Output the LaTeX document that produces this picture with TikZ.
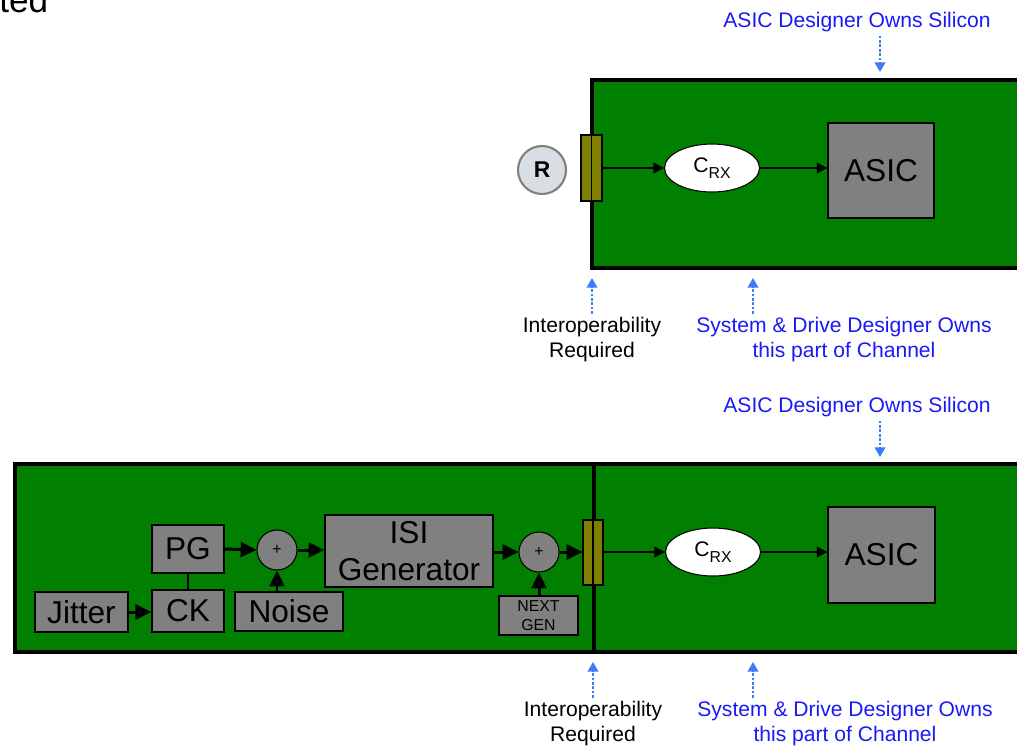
\documentclass[tikz,border=0pt]{standalone}
\usepackage{fontspec}
\setmainfont{Liberation Sans}
\usetikzlibrary{arrows.meta, shapes.geometric}
\definecolor{pcbgreen}{HTML}{007F00}
\definecolor{blockgray}{HTML}{808080}
\definecolor{connolive}{HTML}{808000}
\definecolor{ownblue}{HTML}{1A1AF5}
\definecolor{arrowblue}{HTML}{3D7BF5}
\definecolor{probegray}{HTML}{D9DEE4}
\tikzset{
  board/.style={fill=pcbgreen, draw=black, line width=2.8pt},
  blockbox/.style={rectangle, fill=blockgray, draw=black, line width=0.8pt, inner sep=0pt, font=\fontsize{18}{21}\selectfont, align=center},
  sumnode/.style={circle, fill=blockgray, draw=black, line width=0.6pt, minimum size=0.8cm, inner sep=0pt, font=\fontsize{9}{10}\selectfont},
  connbox/.style={rectangle, fill=connolive, draw=black, line width=0.6pt, minimum width=0.42cm, minimum height=1.32cm, inner sep=0pt},
  crxnode/.style={ellipse, fill=white, draw=black, line width=0.6pt, minimum width=1.9cm, minimum height=0.96cm, inner sep=0pt, font=\fontsize{12}{14}\selectfont},
  ownlabel/.style={text=ownblue, inner sep=2pt, align=center, font=\fontsize{12}{14.2}\selectfont},
  notelabel/.style={text=black, inner sep=2pt, align=center, font=\fontsize{12}{14.2}\selectfont},
  ownarrow/.style={arrowblue, line width=1.2pt, dash pattern=on 1.5pt off 1pt, -{Triangle[length=5.5pt, width=6pt]}},
  sig/.style={black, line width=0.9pt, -{Triangle[length=6pt, width=6pt]}},
  bigsig/.style={black, line width=1.7pt, -{Triangle[length=9pt, width=8.5pt]}}
}

\begin{document}
\begin{tikzpicture}[x=0.02cm, y=-0.02cm]
\useasboundingbox (0,0) rectangle (1017,745);

% Cut-off title
\node[anchor=base west, inner sep=0pt, font=\fontsize{20}{24}\selectfont] (cuttitle) at (-1,12) {ted};

% ---------------- Upper channel ----------------
\node[ownlabel] (asicowntop) at (857,22) {ASIC Designer Owns Silicon};
\coordinate (asicpointtop) at (880,72);
\draw[ownarrow] (asicowntop.south -| asicpointtop) -- (asicpointtop);

\draw[board] (592,80) rectangle (1040,268);

\node[circle, fill=probegray, draw=gray, line width=1.2pt, minimum size=0.96cm, inner sep=0pt, font=\fontsize{13}{15}\selectfont\bfseries] (probe) at (542,170) {R};

\node[connbox] (conntop) at (591.5,168) {};
\draw[line width=0.6pt] (conntop.north) -- (conntop.south);

\node[crxnode] (crxtop) at (712,168) {C\raisebox{-0.5ex}{\fontsize{9}{10}\selectfont RX}};
\node[blockbox, minimum width=2.12cm, minimum height=1.9cm] (asictop) at (881,170.5) {ASIC};

\draw[sig] (conntop.east |- crxtop) -- (crxtop.west);
\draw[sig] (crxtop.east) -- (asictop.west |- crxtop);

\node[notelabel] (interoptop) at (592,340) {Interoperability\\Required};
\coordinate (interpointtop) at (592,278);
\draw[ownarrow] (interoptop.north) -- (interpointtop);

\node[ownlabel] (sysowntop) at (844,340) {System \& Drive Designer Owns\\this part of Channel};
\coordinate (syspointtop) at (753,278);
\draw[ownarrow] (sysowntop.north -| syspointtop) -- (syspointtop);

% ---------------- Lower channel ----------------
\node[ownlabel] (asicownbot) at (857,407) {ASIC Designer Owns Silicon};
\coordinate (asicpointbot) at (880,457);
\draw[ownarrow] (asicownbot.south -| asicpointbot) -- (asicpointbot);

\draw[board] (15,464) rectangle (594,652);
\draw[board] (594,464) rectangle (1040,652);

% Transmitter blocks
\node[blockbox, minimum width=1.86cm, minimum height=0.8cm] (jitter) at (81.5,612) {Jitter};
\node[blockbox, minimum width=1.44cm, minimum height=0.84cm] (ck) at (188,611) {CK};
\node[blockbox, minimum width=1.44cm, minimum height=0.96cm] (pg) at (188,549) {PG};
\node[blockbox, minimum width=2.16cm, minimum height=0.78cm] (noise) at (289,611.5) {Noise};
\node[sumnode] (plusa) at (277,550) {+};
\node[blockbox, minimum width=3.36cm, minimum height=1.44cm, font=\fontsize{18}{21}\selectfont] (isigen) at (409,551) {ISI\\Generator};
\node[sumnode] (plusb) at (539,552) {+};
\node[blockbox, minimum width=1.58cm, minimum height=0.78cm, font=\fontsize{9}{10.8}\selectfont] (nextgen) at (538.5,615.5) {NEXT\\GEN};

\draw[bigsig] (jitter.east) -- (ck.west |- jitter.east);
\draw[line width=1.7pt] (pg.south) -- (ck.north);
\draw[bigsig] (pg.east) -- (plusa.west);
\draw[bigsig] (noise.north -| plusa) -- (plusa.south);
\draw[bigsig] (plusa.east) -- (isigen.west |- plusa);
\draw[bigsig] (isigen.east |- plusb) -- (plusb.west);
\draw[bigsig] (nextgen.north -| plusb) -- (plusb.south);

\node[connbox, minimum width=0.4cm, minimum height=1.3cm] (connbot) at (593,552.5) {};
\draw[line width=0.6pt] (connbot.north) -- (connbot.south);
\draw[bigsig] (plusb.east) -- (connbot.west |- plusb);

\node[crxnode] (crxbot) at (713,552) {C\raisebox{-0.5ex}{\fontsize{9}{10}\selectfont RX}};
\node[blockbox, minimum width=2.14cm, minimum height=1.92cm] (asicbot) at (881.5,555) {ASIC};

\draw[sig] (connbot.east |- crxbot) -- (crxbot.west);
\draw[sig] (crxbot.east) -- (asicbot.west |- crxbot);

\node[notelabel] (interopbot) at (593,724) {Interoperability\\Required};
\coordinate (interpointbot) at (593,662);
\draw[ownarrow] (interopbot.north) -- (interpointbot);

\node[ownlabel] (sysownbot) at (845,724) {System \& Drive Designer Owns\\this part of Channel};
\coordinate (syspointbot) at (753,662);
\draw[ownarrow] (sysownbot.north -| syspointbot) -- (syspointbot);

\end{tikzpicture}
\end{document}
